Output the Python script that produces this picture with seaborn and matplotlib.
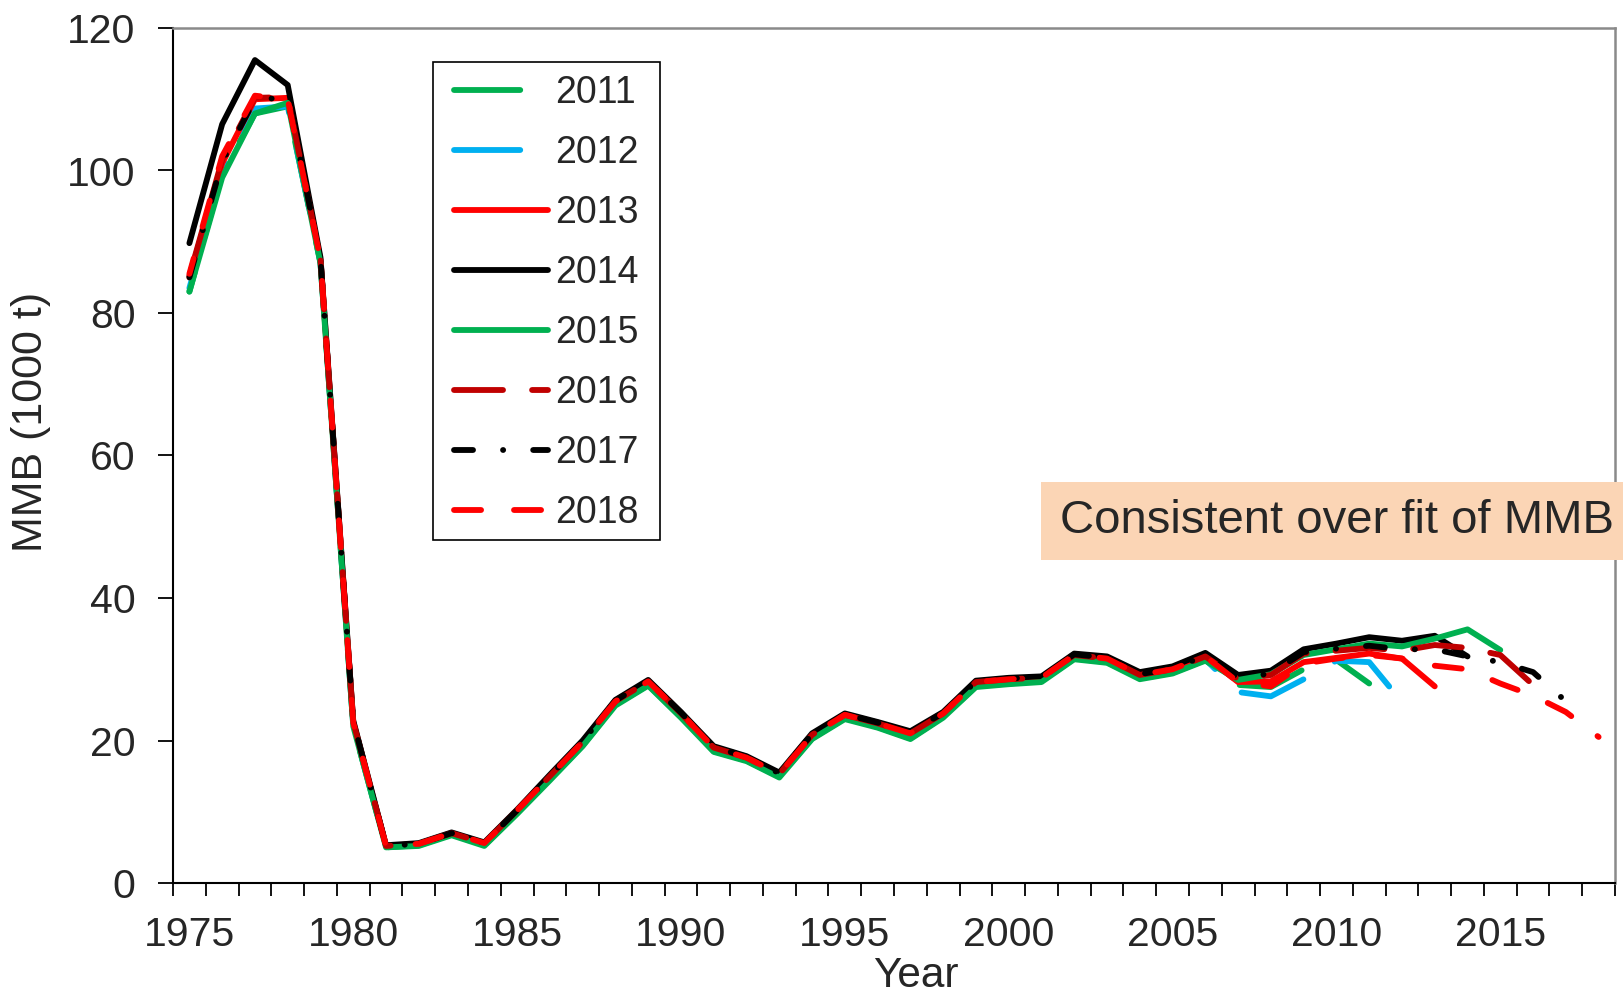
import numpy as np
import pandas as pd
import matplotlib
matplotlib.use("Agg")
import matplotlib.pyplot as plt
import seaborn as sns
from matplotlib.patches import Rectangle

# ---------------- data ----------------
years = list(range(1975, 2019))
labels = ["2011", "2012", "2013", "2014", "2015", "2016", "2017", "2018"]

mmb_2011 = [83.0, 99.5, 108.0, 109.0, 87.0, 22.0, 5.0, 5.3, 6.8, 5.3, 9.8, 14.5, 19.3, 25.0,
            27.8, 23.3, 18.5, 17.2, 14.9, 20.3, 23.1, 21.9, 20.3, 23.3, 27.6, 28.0, 28.3, 31.5,
            31.0, 28.7, 29.5, 31.3, 27.8, 27.5, 30.0, 31.3, 28.0]
mmb_2012 = [83.5, 100.0, 108.7, 109.0, 87.2, 22.2, 5.1, 5.4, 6.9, 5.4, 9.9, 14.6, 19.4, 25.1,
            27.9, 23.4, 18.6, 17.3, 15.0, 20.4, 23.2, 22.0, 20.4, 23.4, 27.7, 28.1, 28.4, 31.6,
            31.1, 28.8, 29.6, 31.4, 26.8, 26.2, 28.6, 31.2, 31.0, 25.4]
mmb_2013 = [85.0, 101.0, 110.0, 110.2, 87.5, 22.6, 5.2, 5.5, 7.0, 5.6, 10.2, 15.0, 19.8, 25.5,
            28.3, 23.8, 19.0, 17.6, 15.3, 20.8, 23.6, 22.4, 21.0, 23.8, 28.2, 28.6, 28.8, 32.0,
            31.5, 29.2, 30.0, 31.8, 28.2, 28.3, 31.0, 31.6, 32.2, 31.5, 27.6]
mmb_2014 = [89.8, 106.5, 115.5, 112.0, 87.8, 22.8, 5.3, 5.6, 7.1, 5.7, 10.3, 15.2, 20.0, 25.7,
            28.5, 24.0, 19.2, 17.8, 15.5, 21.0, 23.8, 22.6, 21.3, 24.0, 28.4, 28.8, 29.0, 32.2,
            31.8, 29.6, 30.4, 32.3, 29.2, 29.8, 32.8, 33.6, 34.5, 34.0, 34.7, 31.8]
mmb_2015 = [83.0, 99.0, 108.0, 109.5, 87.0, 22.0, 5.0, 5.2, 6.7, 5.2, 9.7, 14.4, 19.2, 24.9,
            27.7, 23.2, 18.4, 17.1, 14.8, 20.2, 23.0, 21.8, 20.2, 23.2, 27.5, 27.9, 28.2, 31.4,
            30.9, 28.6, 29.4, 31.2, 28.5, 29.3, 32.0, 32.8, 33.6, 33.2, 34.3, 35.6, 32.7]
mmb_2016 = [85.2, 101.5, 110.2, 110.3, 87.5, 22.6, 5.2, 5.5, 7.0, 5.6, 10.2, 15.0, 19.8, 25.5,
            28.3, 23.8, 19.0, 17.6, 15.3, 20.8, 23.6, 22.4, 21.0, 23.8, 28.2, 28.6, 28.8, 32.0,
            31.5, 29.2, 30.0, 31.8, 28.6, 29.2, 32.2, 32.6, 33.0, 32.6, 33.4, 33.0, 32.0, 27.8]
mmb_2017 = [85.0, 101.2, 110.0, 110.2, 87.6, 22.7, 5.2, 5.5, 7.0, 5.6, 10.2, 15.0, 19.9, 25.6,
            28.4, 23.9, 19.1, 17.7, 15.4, 20.9, 23.7, 22.5, 21.1, 23.9, 28.3, 28.7, 28.9, 32.1,
            31.6, 29.3, 30.1, 31.9, 28.8, 29.4, 32.4, 32.9, 33.3, 32.8, 32.8, 31.8, 31.0, 29.6, 25.5]
mmb_2018 = [85.5, 102.0, 110.5, 110.0, 87.5, 22.5, 5.2, 5.5, 7.0, 5.6, 10.2, 15.0, 19.8, 25.5,
            28.3, 23.8, 19.0, 17.6, 15.3, 20.8, 23.6, 22.4, 21.0, 23.8, 28.2, 28.6, 28.8, 32.0,
            31.5, 29.2, 30.0, 31.8, 28.2, 27.6, 30.8, 31.5, 32.0, 31.5, 30.5, 30.0, 28.0, 26.3,
            24.0, 20.5]

series = [mmb_2011, mmb_2012, mmb_2013, mmb_2014, mmb_2015, mmb_2016, mmb_2017, mmb_2018]

x_ticks = [1975, 1980, 1985, 1990, 1995, 2000, 2005, 2010, 2015]
y_ticks = [0, 20, 40, 60, 80, 100, 120]
annotation = "Consistent over fit of MMB"

# ---------------- styles ----------------
colors = ["#00B050", "#00B0F0", "#FF0000", "#000000", "#00B050", "#C00000", "#000000", "#FF0000"]
plot_styles = [(33, (47.7, 25.9)), (28, (47.7, 25.9)), "-", "-", "-", (0, (35.3, 20.9)),
               (0, (13.7, 21.6, 0.1, 21.6)), (8, (19.5, 23.7))]
legend_styles = [(0, (47.7, 25.9)), (0, (47.7, 25.9)), "-", "-", "-", (0, (35.3, 20.9)),
                 (0, (13.7, 21.6, 0.1, 21.6)), (0, (19.5, 23.7))]
LW = 4.2

sns.set_style("white")
plt.rcParams["font.family"] = ["Liberation Sans", "DejaVu Sans"]
plt.rcParams["lines.scale_dashes"] = False

W, H = 1623, 997
fig = plt.figure(figsize=(W / 100, H / 100), dpi=100)
L, R, T, B = 173, 1615, 28, 883
ax = fig.add_axes([L / W, 1 - B / H, (R - L) / W, (B - T) / H])

for lab, vals, c, ls in zip(labels, series, colors, plot_styles):
    df = pd.DataFrame({"Year": years[:len(vals)], "MMB": vals})
    sns.lineplot(data=df, x="Year", y="MMB", ax=ax, color=c, lw=LW, linestyle=ls,
                 label=lab, solid_capstyle="round", dash_capstyle="round",
                 solid_joinstyle="round", dash_joinstyle="round")

ax.set_xlim(1974.5, 2018.5)
ax.set_ylim(0, 120)

ax.set_xticks(x_ticks)
ax.set_xticklabels([str(v) for v in x_ticks], fontsize=29.5)
ax.set_xticks(np.arange(1974.5, 2019, 1.0), minor=True)
ax.tick_params(axis="x", which="major", length=0, pad=24)
ax.tick_params(axis="x", which="minor", length=9, width=1.3, color="black", direction="out",
               bottom=True)
ax.set_yticks(y_ticks)
ax.set_yticklabels([str(v) for v in y_ticks], fontsize=29.5)
ax.tick_params(axis="y", which="major", length=11, width=1.3, color="black", direction="out",
               pad=16, left=True)

for s in ["left", "bottom"]:
    ax.spines[s].set_color("black")
    ax.spines[s].set_linewidth(1.5)
for s in ["top", "right"]:
    ax.spines[s].set_color("#8A8A8A")
    ax.spines[s].set_linewidth(1.8)

ax.set_xlabel("Year", fontsize=30.5)
ax.set_ylabel("MMB (1000 t)", fontsize=31)
ax.xaxis.set_label_coords((916 - L) / (R - L), (B - 976) / (B - T))
ax.xaxis.label.set_va("center")
ax.yaxis.set_label_coords((31 - L) / (R - L), (B - 422) / (B - T))
ax.yaxis.label.set_va("center")

# legend: content placed without frame, frame drawn as a rectangle
leg = ax.legend(loc="upper left", bbox_to_anchor=(454 / W, 1 - 75 / H),
                bbox_transform=fig.transFigure, borderaxespad=0, fontsize=27,
                handlelength=2.5, handletextpad=0.2, labelspacing=0.64, borderpad=0,
                frameon=False)
for h, ls in zip(leg.get_lines(), legend_styles):
    h.set_linestyle(ls)
leg.set_zorder(6)
ax.add_patch(Rectangle((433 / W, 1 - 540 / H), (660 - 433) / W, (540 - 62) / H,
                       transform=fig.transFigure, facecolor="white", edgecolor="black",
                       linewidth=1.2, zorder=5, clip_on=False))

# annotation box
fig.patches.append(Rectangle((1041 / W, 1 - 560 / H), (W - 1041) / W, 78 / H,
                             transform=fig.transFigure, facecolor="#FBD5B5",
                             edgecolor="none", zorder=5))
fig.text(1060 / W, 1 - 521 / H, annotation, fontsize=34, ha="left", va="center", zorder=6)

fig.savefig("out.png", dpi=100)
